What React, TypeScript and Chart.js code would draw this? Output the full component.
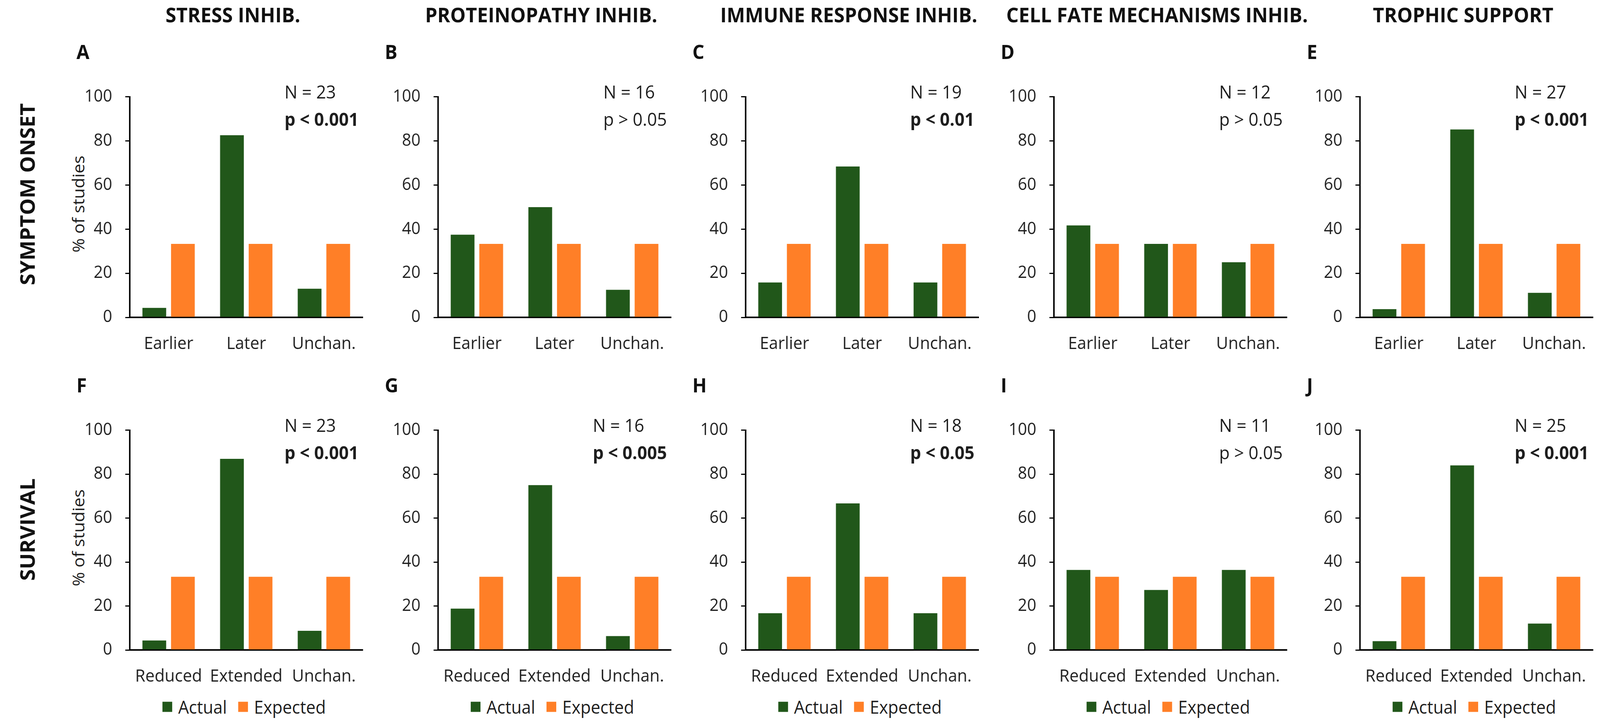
import React, { useEffect, useRef, useState } from 'react';
import { Chart, registerables } from 'chart.js';

Chart.register(...registerables);

// ---------- data ----------
const columnTitles = [
  'STRESS INHIB.',
  'PROTEINOPATHY INHIB.',
  'IMMUNE RESPONSE INHIB.',
  'CELL FATE MECHANISMS INHIB.',
  'TROPHIC SUPPORT',
];
const rowTitles = ['SYMPTOM ONSET', 'SURVIVAL'];
const onsetLetters = ['A', 'B', 'C', 'D', 'E'];
const survivalLetters = ['F', 'G', 'H', 'I', 'J'];

const onsetCategories = ['Earlier', 'Later', 'Unchan.'];
const survivalCategories = ['Reduced', 'Extended', 'Unchan.'];
const seriesNames = ['Actual', 'Expected'];

const stressOnsetActual = [4.3, 82.6, 13.0];
const proteinopathyOnsetActual = [37.5, 50.0, 12.5];
const immuneOnsetActual = [15.8, 68.4, 15.8];
const cellFateOnsetActual = [41.7, 33.3, 25.0];
const trophicOnsetActual = [3.7, 85.2, 11.1];

const stressSurvivalActual = [4.3, 87.0, 8.7];
const proteinopathySurvivalActual = [18.8, 75.0, 6.3];
const immuneSurvivalActual = [16.7, 66.7, 16.7];
const cellFateSurvivalActual = [36.4, 27.3, 36.4];
const trophicSurvivalActual = [4.0, 84.0, 12.0];

const expectedValues = [33.3, 33.3, 33.3];

const onsetN = [23, 16, 19, 12, 27];
const onsetP = ['p < 0.001', 'p > 0.05', 'p < 0.01', 'p > 0.05', 'p < 0.001'];
const onsetPBold = [true, false, true, false, true];

const survivalN = [23, 16, 18, 11, 25];
const survivalP = ['p < 0.001', 'p < 0.005', 'p < 0.05', 'p > 0.05', 'p < 0.001'];
const survivalPBold = [true, true, true, false, true];

const yTickStep = 20;
const yMax = 100;
const yAxisTitle = '% of studies';

// ---------- styling / layout ----------
const FONT = "'Open Sans', 'Noto Sans', 'DejaVu Sans', sans-serif";
const GREEN = '#21571A';
const ORANGE = '#FF7F27';
const TEXT = '#1e1e1e';
const W = 4266;
const H = 1855;

const axisXs = [346, 1168, 1988, 2810, 3626];
const PLOT_W = 628;
const Y_AXIS_W = 140;
const PAD_R = 20;
const PAD_T = 30;

const rows = [
  { top100: 217, zeroY: 812, xAxisH: 120, letterY: 132, titleY: 497, yTitleY: 522 },
  { top100: 1070, zeroY: 1663, xAxisH: 100, letterY: 985, titleY: 1355, yTitleY: 1376 },
];

type PanelProps = {
  axisX: number;
  row: typeof rows[number];
  labels: string[];
  actual: number[];
};

function Panel({ axisX, row, labels, actual }: PanelProps) {
  const ref = useRef<HTMLCanvasElement | null>(null);
  const left = axisX - Y_AXIS_W;
  const top = row.top100 - PAD_T;
  const width = Y_AXIS_W + PLOT_W + PAD_R;
  const height = row.zeroY - top + row.xAxisH;

  useEffect(() => {
    if (!ref.current) return;
    const chart = new Chart(ref.current, {
      type: 'bar',
      data: {
        labels,
        datasets: [
          {
            label: seriesNames[0],
            data: actual,
            backgroundColor: GREEN,
            categoryPercentage: 0.737,
            barPercentage: 0.83,
          },
          {
            label: seriesNames[1],
            data: expectedValues,
            backgroundColor: ORANGE,
            categoryPercentage: 0.737,
            barPercentage: 0.83,
          },
        ],
      },
      options: {
        responsive: false,
        maintainAspectRatio: false,
        animation: false,
        devicePixelRatio: 1,
        layout: { padding: { top: PAD_T, right: PAD_R, left: 0, bottom: 0 } },
        plugins: { legend: { display: false }, tooltip: { enabled: false } },
        scales: {
          x: {
            grid: { display: false, drawTicks: false },
            border: { display: true, color: '#000', width: 4 },
            ticks: {
              font: { family: FONT, size: 44 },
              color: TEXT,
              padding: 42,
              maxRotation: 0,
              autoSkip: false,
            },
            afterFit: (s: any) => {
              s.height = row.xAxisH;
            },
          },
          y: {
            min: 0,
            max: yMax,
            ticks: {
              stepSize: yTickStep,
              font: { family: FONT, size: 43 },
              color: TEXT,
              padding: 35,
            },
            grid: {
              drawOnChartArea: false,
              drawTicks: true,
              tickLength: 12,
              color: '#000',
              lineWidth: 3,
            },
            border: { display: true, color: '#000', width: 4 },
            afterFit: (s: any) => {
              s.width = Y_AXIS_W;
            },
          },
        },
      },
    });
    return () => chart.destroy();
  }, []);

  return (
    <canvas
      ref={ref}
      width={width}
      height={height}
      style={{ position: 'absolute', left, top, width, height }}
    />
  );
}

function Stats({ axisX, row, n, p, bold }: { axisX: number; row: typeof rows[number]; n: number; p: string; bold: boolean }) {
  return (
    <div
      style={{
        position: 'absolute',
        right: W - (axisX + 610),
        top: row.top100 - 18,
        fontFamily: FONT,
        fontSize: 46,
        lineHeight: '70px',
        color: TEXT,
        textAlign: 'left',
        whiteSpace: 'nowrap',
      }}
    >
      <div>{`N = ${n}`}</div>
      <div style={{ fontWeight: bold ? 700 : 400 }}>{p}</div>
    </div>
  );
}

function Legend({ axisX }: { axisX: number }) {
  const sq = (c: string) => (
    <span style={{ display: 'inline-block', width: 26, height: 26, background: c, marginRight: 16 }} />
  );
  return (
    <div
      style={{
        position: 'absolute',
        left: axisX + 305,
        top: 1808,
        transform: 'translate(-50%, -50%)',
        display: 'flex',
        alignItems: 'center',
        fontFamily: FONT,
        fontSize: 45,
        color: TEXT,
        whiteSpace: 'nowrap',
      }}
    >
      {sq(GREEN)}
      <span style={{ marginRight: 30 }}>{seriesNames[0]}</span>
      {sq(ORANGE)}
      <span>{seriesNames[1]}</span>
    </div>
  );
}

export default function App() {
  const [vp, setVp] = useState({ w: W, h: H });
  useEffect(() => {
    document.body.style.margin = '0';
    document.documentElement.style.overflow = 'hidden';
    setVp({ w: window.innerWidth, h: window.innerHeight });
  }, []);

  // fit the 4266x1855 layout into the actual viewport
  const sx = vp.w > 0 ? Math.min(1, vp.w / W) : 1;
  const sy = vp.h > 0 ? Math.min(1, vp.h / H) : 1;

  const onsetActuals = [
    stressOnsetActual,
    proteinopathyOnsetActual,
    immuneOnsetActual,
    cellFateOnsetActual,
    trophicOnsetActual,
  ];
  const survivalActuals = [
    stressSurvivalActual,
    proteinopathySurvivalActual,
    immuneSurvivalActual,
    cellFateSurvivalActual,
    trophicSurvivalActual,
  ];

  const boldText: React.CSSProperties = {
    position: 'absolute',
    fontFamily: FONT,
    fontWeight: 700,
    fontSize: 50,
    color: '#111',
    whiteSpace: 'nowrap',
    lineHeight: 1,
  };

  return (
    <div
      style={{
        position: 'fixed',
        left: 0,
        top: 0,
        width: W,
        height: H,
        background: '#fff',
        overflow: 'hidden',
        transformOrigin: '0 0',
        transform: `scale(${sx}, ${sy})`,
      }}
    >
      {columnTitles.map((t, i) => (
        <div
          key={'t' + i}
          style={{ ...boldText, fontSize: 52, left: axisXs[i] + 275, top: 37, transform: 'translate(-50%, -50%)' }}
        >
          {t}
        </div>
      ))}
      {rowTitles.map((t, r) => (
        <div
          key={'r' + r}
          style={{
            ...boldText,
            fontSize: 54,
            left: 72,
            top: rows[r].titleY,
            transform: 'translate(-50%, -50%) rotate(-90deg)',
          }}
        >
          {t}
        </div>
      ))}
      {rows.map((row, r) => (
        <div
          key={'yt' + r}
          style={{
            position: 'absolute',
            left: 208,
            top: row.yTitleY,
            transform: 'translate(-50%, -50%) rotate(-90deg)',
            fontFamily: FONT,
            fontSize: 44,
            color: TEXT,
            whiteSpace: 'nowrap',
            lineHeight: 1,
          }}
        >
          {yAxisTitle}
        </div>
      ))}
      {axisXs.map((ax, i) => (
        <React.Fragment key={'p' + i}>
          <div style={{ ...boldText, left: ax - 142, top: rows[0].letterY, transform: 'translateY(-50%)' }}>
            {onsetLetters[i]}
          </div>
          <div style={{ ...boldText, left: ax - 142, top: rows[1].letterY, transform: 'translateY(-50%)' }}>
            {survivalLetters[i]}
          </div>
          <Panel axisX={ax} row={rows[0]} labels={onsetCategories} actual={onsetActuals[i]} />
          <Panel axisX={ax} row={rows[1]} labels={survivalCategories} actual={survivalActuals[i]} />
          <Stats axisX={ax} row={rows[0]} n={onsetN[i]} p={onsetP[i]} bold={onsetPBold[i]} />
          <Stats axisX={ax} row={rows[1]} n={survivalN[i]} p={survivalP[i]} bold={survivalPBold[i]} />
          <Legend axisX={ax} />
        </React.Fragment>
      ))}
    </div>
  );
}
